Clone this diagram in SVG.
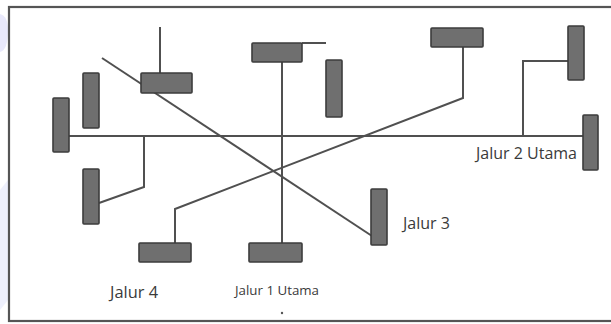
<svg xmlns="http://www.w3.org/2000/svg" width="611" height="324" viewBox="0 0 611 324">
<style>
.n{fill:#6f6f6f;stroke:#3c3c3c;stroke-width:1.6}
.c{fill:none;stroke:#505050;stroke-width:2;stroke-linejoin:miter}
.t{font-family:"Open Sans","Liberation Sans",sans-serif;fill:#3a3a3a}
</style>
<rect width="611" height="324" fill="#ffffff"/>
<path d="M0,14 Q8,16 8,30 Q8,50 0,52 Z" fill="#e9e9fb"/>
<path d="M0,190 L8,180 L8,300 L0,310 Z" fill="#eef0fc"/>
<rect x="9" y="7" width="610" height="314" fill="none" stroke="#555" stroke-width="2.2"/>
<g id="connectors">
<path class="c" d="M69,136 H583"/>
<path class="c" d="M160,27 V73"/>
<path class="c" d="M102,58 L372,236"/>
<path class="c" d="M282,62 V243"/>
<path class="c" d="M302,43 H326"/>
<path class="c" d="M463,47 V98 L175,209 V243"/>
<path class="c" d="M568,61 H523 V136"/>
<path class="c" d="M99,203 L144,187 V136"/>
</g>
<g id="nodeA"><rect class="n" x="53" y="98" width="16" height="54" rx="1"/></g>
<g id="nodeB"><rect class="n" x="83" y="73" width="16" height="55" rx="1"/></g>
<g id="nodeC"><rect class="n" x="141" y="73" width="51" height="20" rx="1"/></g>
<g id="nodeD"><rect class="n" x="252" y="43" width="50" height="19" rx="1"/></g>
<g id="nodeE"><rect class="n" x="326" y="60" width="16" height="57" rx="1"/></g>
<g id="nodeF"><rect class="n" x="431" y="28" width="52" height="19" rx="1"/></g>
<g id="nodeG"><rect class="n" x="568" y="26" width="16" height="54" rx="1"/></g>
<g id="nodeH"><rect class="n" x="583" y="115" width="15" height="55" rx="1"/></g>
<g id="nodeI"><rect class="n" x="83" y="169" width="16" height="55" rx="1"/></g>
<g id="nodeJ"><rect class="n" x="139" y="243" width="52" height="19" rx="1"/></g>
<g id="nodeK"><rect class="n" x="249" y="243" width="53" height="19" rx="1"/></g>
<g id="nodeL"><rect class="n" x="371" y="189" width="16" height="56" rx="1"/></g>
<g id="labels">
<text class="t" x="476" y="159" font-size="16" textLength="101" lengthAdjust="spacingAndGlyphs">Jalur 2 Utama</text>
<text class="t" x="403" y="229" font-size="16" textLength="47" lengthAdjust="spacingAndGlyphs">Jalur 3</text>
<text class="t" x="110" y="298" font-size="16" textLength="48" lengthAdjust="spacingAndGlyphs">Jalur 4</text>
<text class="t" x="235" y="295" font-size="12" textLength="84" lengthAdjust="spacingAndGlyphs">Jalur 1 Utama</text>
</g>
<circle cx="282" cy="313" r="1.2" fill="#555"/>
</svg>
